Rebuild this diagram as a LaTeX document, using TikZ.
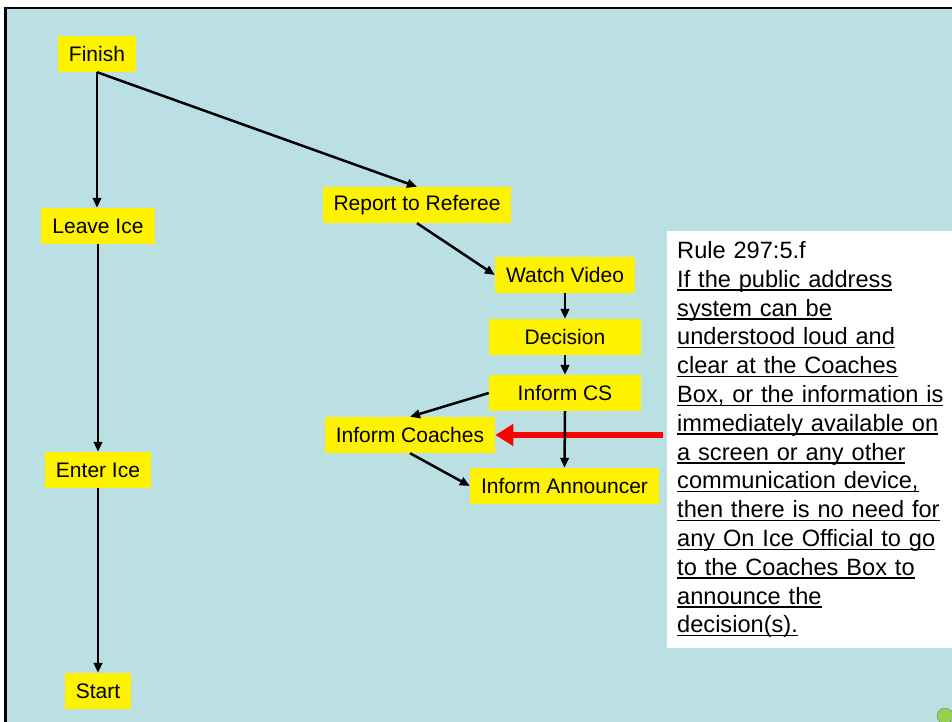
\documentclass[tikz,border=0pt]{standalone}
\usepackage{fontspec}
\setmainfont{Liberation Sans}
\usetikzlibrary{arrows.meta}
\definecolor{slide}{RGB}{187,224,227}
\definecolor{dotgreen}{RGB}{146,208,80}
\newsavebox{\undlbox}
\newcommand{\undl}[1]{\leavevmode\sbox{\undlbox}{#1}%
  \rlap{\rule[-3.6pt]{\wd\undlbox}{1.5pt}}\usebox{\undlbox}}

\begin{document}
\begin{tikzpicture}[x=1pt, y=-1pt, >={Triangle[length=10pt,width=8.5pt]},
  stepbox/.style={fill=yellow, minimum height=36pt, inner xsep=11pt,
    font=\fontsize{21}{25}\selectfont},
  wide/.style={minimum width=152pt},
  flow/.style={->, line width=2.5pt},
  rulebox/.style={fill=white, anchor=west, minimum height=417pt,
    text width=275pt, inner xsep=10pt, align=left,
    font=\fontsize{23.6}{28.8}\selectfont}
 ]
 \useasboundingbox (0,0) rectangle (952,722);
 \fill [slide] (5,8) rectangle (952,722);
 \draw [line width=2.5pt] (5.5,722) -- (5.5,8) -- (952,8);

 \node [stepbox] (F) at (97,54) {Finish};
 \node [stepbox] (L) at (98,226) {Leave Ice};
 \node [stepbox] (E) at (98,470) {Enter Ice};
 \node [stepbox] (S) at (98,691) {Start};
 \node [stepbox] (R) at (417,205) {Report to Referee};
 \node [stepbox] (W) at (565,275) {Watch Video};
 \node [stepbox, wide] (D) at (565,337) {Decision};
 \node [stepbox, wide] (CS) at (565,393) {Inform CS};
 \node [stepbox] (IC) at (410,435) {Inform Coaches};
 \node [stepbox] (IA) at (564.5,486) {Inform Announcer};

 \node [rulebox] (rule) at (667,439.5) {Rule 297:5.f\\
  \undl{If the public address}\\
  \undl{system can be}\\
  \undl{understood loud and}\\
  \undl{clear at the Coaches}\\
  \undl{Box, or the information is}\\
  \undl{immediately available on}\\
  \undl{a screen or any other}\\
  \undl{communication device,}\\
  \undl{then there is no need for}\\
  \undl{any On Ice Official to go}\\
  \undl{to the Coaches Box to}\\
  \undl{announce the}\\
  \undl{decision(s).}};

 \coordinate (tail) at (663,435);
 \draw [red, line width=6.5pt, -{Triangle[length=18pt,width=21pt]}]
  (tail) -- (IC.east);

 \draw [flow] (F.south) -- (F.south |- L.north);
 \draw [flow] (F.south) -- (R.north);
 \draw [flow] (L.south) -- (E.north);
 \draw [flow] (E.south) -- (S.north);
 \draw [flow] (R.south) -- (W.west);
 \draw [flow] (W.south) -- (D.north);
 \draw [flow] (D.south) -- (CS.north);
 \draw [flow] (CS.west) -- (IC.north);
 \draw [flow] (CS.south) -- (IA.north);
 \draw [flow] (IC.south) -- (IA.west);

 \draw [gray, fill=dotgreen] (945,716) circle (8pt);
\end{tikzpicture}
\end{document}
